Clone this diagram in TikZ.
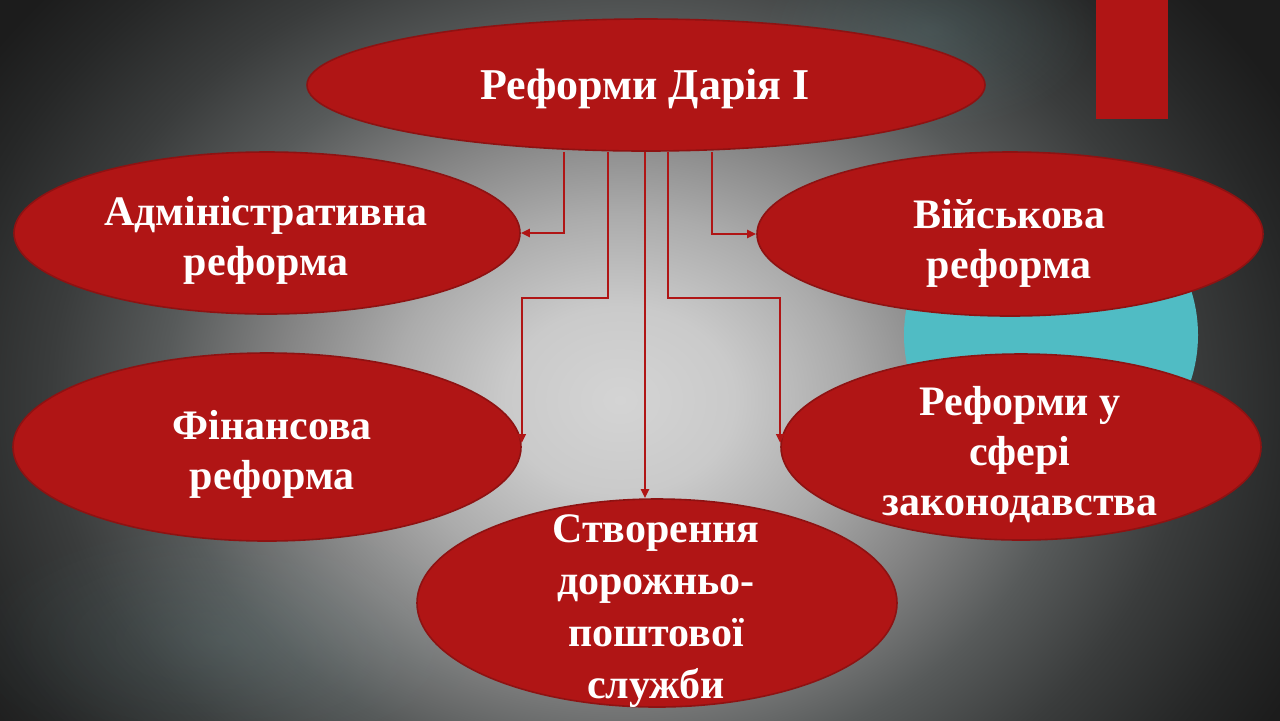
\documentclass[tikz,border=0pt]{standalone}
\usepackage{fontspec}
\setmainfont{Liberation Serif}
\usetikzlibrary{shapes.geometric,arrows.meta,fadings}
\definecolor{redfill}{HTML}{B01515}
\definecolor{redline}{HTML}{8E1212}
\definecolor{teal1}{HTML}{50BCC4}
\definecolor{tealbg}{HTML}{6FA6AA}
\definecolor{bgA}{HTML}{D4D4D4}
\definecolor{bgB}{HTML}{CACACA}
\definecolor{bgC}{HTML}{ABABAB}
\definecolor{bgD}{HTML}{838383}
\definecolor{bgE}{HTML}{575A5A}
\definecolor{bgF}{HTML}{3A3C3C}
\definecolor{bgG}{HTML}{262727}
\definecolor{bgH}{HTML}{1C1C1C}
\pgfdeclareradialshading{bgshade}{\pgfpoint{0bp}{0bp}}{%
color(0bp)=(bgA); color(3.75bp)=(bgB); color(7.5bp)=(bgC); color(11.25bp)=(bgD); color(15bp)=(bgE); color(18.75bp)=(bgF); color(22.5bp)=(bgG); color(25bp)=(bgH); color(50bp)=(bgH)}
\tikzfading[name=softfade, inner color=transparent!0, outer color=transparent!100]
\tikzset{
  ell/.style={ellipse, draw=redline, line width=0.8pt, fill=redfill, inner sep=0pt},
  txt/.style={text=white, font=\bfseries\fontsize{21}{25}\selectfont, align=center, inner sep=0pt},
  conn/.style={draw=redfill, line width=1.1pt, -{Triangle[length=4.5pt,width=4pt]}}
}
\begin{document}
\begin{tikzpicture}[x=0.5pt,y=-0.5pt]
\useasboundingbox (0,0) rectangle (1280,720);
\begin{scope}
\clip (-10,-10) rectangle (1290,730);
\fill[bgH] (-10,-10) rectangle (1290,730);
\shade[shading=bgshade] (620,400) ellipse (760 and 620);
\fill[tealbg, opacity=0.18, path fading=softfade] (930,30) ellipse (170 and 100);
\fill[tealbg, opacity=0.12, path fading=softfade] (220,640) ellipse (260 and 120);
\end{scope}
\fill[teal1] (1051,335) circle (147);
\fill[redfill] (1096,-5) rectangle (1168,119);
% nodes
\node[ell, minimum width=339pt, minimum height=66pt] (top) at (646,85) {};
\node[ell, minimum width=253pt, minimum height=81pt] (adm) at (267,233) {};
\node[ell, minimum width=253pt, minimum height=82pt] (mil) at (1010,234) {};
\node[ell, minimum width=254pt, minimum height=94pt] (fin) at (267,447) {};
\node[ell, minimum width=240pt, minimum height=93pt] (law) at (1021,447) {};
\node[ell, minimum width=240pt, minimum height=104pt] (post) at (657,603) {};
% texts
\node[txt, font=\bfseries\fontsize{22}{26}\selectfont] (topt) at (645,89) {Реформи Дарія I};
\node[txt] (admt) at (266,240) {Адміністративна\\реформа};
\node[txt] (milt) at (1009,243) {Військова\\реформа};
\node[txt] (fint) at (272,454) {Фінансова\\реформа};
\node[txt] (lawt) at (1020,455) {Реформи у\\сфері\\законодавства};
\node[txt, font=\bfseries\fontsize{21}{26}\selectfont] (postt) at (656,611) {Створення\\дорожньо-\\поштової\\служби};
% connectors
\draw[conn] ([xshift=-41pt]top.south) |- (adm.east);
\draw[conn] ([xshift=-19pt]top.south) -- ++(0,146) -| ([yshift=2pt]fin.east);
\draw[conn] ([xshift=-0.5pt]top.south) -- ([xshift=-0.5pt]top.south |- post.north);
\draw[conn] ([xshift=11pt]top.south) -- ++(0,146) -| ([yshift=2pt]law.west);
\draw[conn] ([xshift=33pt]top.south) |- (mil.west);
\end{tikzpicture}
\end{document}
